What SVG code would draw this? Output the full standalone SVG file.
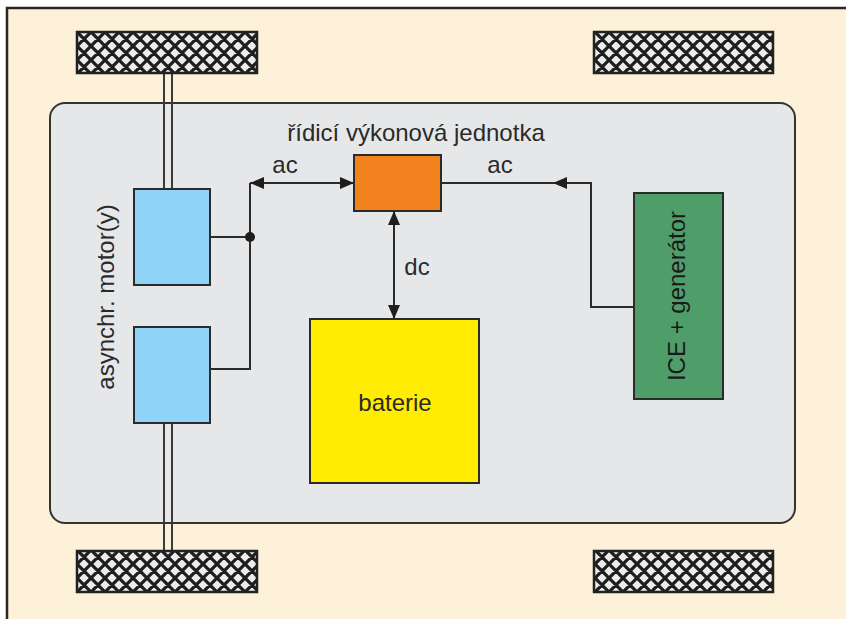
<svg xmlns="http://www.w3.org/2000/svg" width="846" height="619" viewBox="0 0 846 619">
<style>
.box{stroke:#2b2b2b;stroke-width:2}
.wire{fill:none;stroke:#2b2b2b;stroke-width:2}
.axle{fill:none;stroke:#3a3a3a;stroke-width:2}
.lbl{font-family:"Liberation Sans",Arial,sans-serif;font-size:24px;fill:#2a2a2a}
.wheel{fill:url(#hatch);stroke:#222;stroke-width:2.5}
</style>
<defs>
<pattern id="hatch" patternUnits="userSpaceOnUse" width="14" height="14" x="77" y="32">
<rect width="14" height="14" fill="#ececec"/>
<path d="M0,0 L14,14 M14,0 L0,14 M-7,7 L0,14 M7,-7 L21,7 M-7,7 L7,-7 M7,21 L21,7" stroke="#1e1e1e" stroke-width="3.2"/>
</pattern>
<marker id="arr" viewBox="0 0 14 12" markerUnits="userSpaceOnUse" markerWidth="14" markerHeight="12" refX="14" refY="6" orient="auto-start-reverse">
<path d="M0,0 L14,6 L0,12 z" fill="#1e1e1e"/>
</marker>
</defs>
<rect x="0" y="0" width="846" height="619" fill="#ffffff"/>
<rect x="7" y="8" width="839" height="611" fill="#fef1d9"/>
<path d="M7,619 V8 H846" fill="none" stroke="#2a2520" stroke-width="2.5"/>
<g id="chassis">
<rect x="50" y="103" width="745" height="420" rx="15" ry="15" fill="#e6e7e9" stroke="#333" stroke-width="2"/>
</g>
<g id="axles">
<path class="axle" d="M164,73 V189 M172,73 V189 M164,423 V551 M172,423 V551"/>
</g>
<g id="wheel-fl"><rect class="wheel" x="77" y="32" width="180" height="41"/></g>
<g id="wheel-fr"><rect class="wheel" x="594" y="32" width="179" height="41"/></g>
<g id="wheel-rl"><rect class="wheel" x="77" y="551" width="180" height="41"/></g>
<g id="wheel-rr"><rect class="wheel" x="594" y="551" width="179" height="41"/></g>
<g id="motor1"><rect class="box" x="134" y="189" width="76" height="96" fill="#8fd4f6"/></g>
<g id="motor2"><rect class="box" x="134" y="327" width="76" height="96" fill="#8fd4f6"/></g>
<g id="motor-label"><text class="lbl" text-anchor="middle" transform="translate(114,297) rotate(-90)">asynchr. motor(y)</text></g>
<g id="controller">
<rect class="box" x="354" y="155" width="87" height="56" fill="#f2831f"/>
<text class="lbl" x="416" y="141" text-anchor="middle">řídicí výkonová jednotka</text>
</g>
<g id="battery">
<rect class="box" x="310" y="319" width="169" height="164" fill="#ffec00"/>
<text class="lbl" x="395" y="411" text-anchor="middle">baterie</text>
</g>
<g id="generator">
<rect class="box" x="634" y="193" width="89" height="206" fill="#4f9e6a"/>
<text class="lbl" text-anchor="middle" transform="translate(685,296) rotate(-90)" style="fill:#1a1a1a">ICE + generátor</text>
</g>
<g id="connectors">
<path class="wire" d="M210,237 H250"/>
<path class="wire" d="M210,369 H250 V183"/>
<path class="wire" d="M250,183 H354" marker-start="url(#arr)" marker-end="url(#arr)"/>
<path class="wire" d="M441,183 H553"/>
<path class="wire" d="M634,307 H591 V183 H553" marker-end="url(#arr)"/>
<path class="wire" d="M394,211 V319" marker-start="url(#arr)" marker-end="url(#arr)"/>
<circle cx="250" cy="237" r="5" fill="#1e1e1e"/>
<text class="lbl" x="285" y="173" text-anchor="middle">ac</text>
<text class="lbl" x="500" y="173" text-anchor="middle">ac</text>
<text class="lbl" x="417" y="275" text-anchor="middle">dc</text>
</g>
</svg>
